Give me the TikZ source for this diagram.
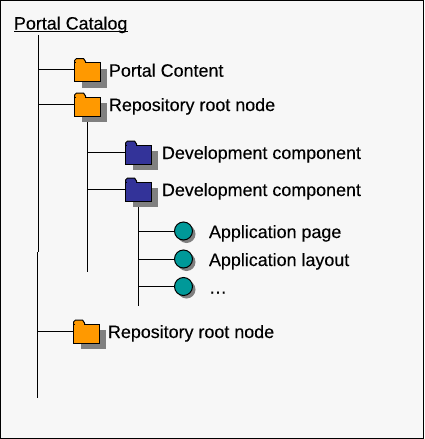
\documentclass[tikz,border=0pt]{standalone}
\usepackage{fontspec}
\setmainfont{Liberation Sans}
\definecolor{bgc}{HTML}{F7F7F7}
\definecolor{orangef}{HTML}{FF9900}
\definecolor{bluef}{HTML}{333399}
\definecolor{tealf}{HTML}{009999}
\definecolor{shad}{HTML}{808080}
\tikzset{
  every node/.style={inner sep=0pt,outer sep=0pt},
  conn/.style={draw=black,line width=1pt},
  lab/.style={anchor=base west,font=\fontsize{17.9}{20}\selectfont\addfontfeature{FakeBold=0.25},text=black},
  foldernode/.style={rectangle,minimum width=26pt,minimum height=19pt,draw=black,line width=1pt},
  ballnode/.style={circle,minimum size=18pt,draw=black,line width=1pt,fill=tealf},
}
% #1 name, #2 left x, #3 top y of tab (pixels), #4 colour
\newcommand{\folderat}[4]{%
  \fill[shad] (#2+7,-#3-10) rectangle (#2+32,-#3-29);
  \draw[line width=1pt,fill=#4,line join=round] (#2,-#3-6) -- (#2,-#3-2) -- (#2+2,-#3) -- (#2+9,-#3) -- (#2+11,-#3-3) -- (#2+11,-#3-6) -- cycle;
  \node[foldernode,fill=#4,anchor=north west] (#1) at (#2,-#3-4) {};
  \fill[#4] (#2+1,-#3-3) rectangle (#2+10,-#3-5);
}
\newcommand{\ballat}[3]{%
  \fill[shad] (#2+3,-#3-3) circle[radius=9];
  \node[ballnode] (#1) at (#2,-#3) {};
}
\begin{document}
\begin{tikzpicture}[x=1pt,y=1pt]
\useasboundingbox (0,0) rectangle (424,-439);
\fill[white] (0,0) rectangle (424,-439);
\draw[fill=bgc,line width=1pt] (0.5,-0.5) rectangle (423.5,-438);

\node[lab,anchor=base west] (title) at (14,-29.5) {Portal Catalog};
\draw[line width=1pt] (14,-31.5) -- (128,-31.5);

% trunk coordinates
\coordinate (a0) at (38.5,-35);
\coordinate (a1) at (38.5,-69.5);
\coordinate (a2) at (38.5,-104);
\coordinate (a3) at (38.5,-252);
\coordinate (b0) at (37.5,-252);
\coordinate (b1) at (37.5,-331);
\coordinate (b2) at (37.5,-398);
\coordinate (c0) at (87.5,-116);
\coordinate (c1) at (87.5,-152.5);
\coordinate (c2) at (87.5,-189.5);
\coordinate (c3) at (87.5,-272);
\coordinate (d0) at (138.5,-201);
\coordinate (d1) at (138.5,-231);
\coordinate (d2) at (138.5,-259);
\coordinate (d3) at (138.5,-286.5);
\coordinate (d4) at (138.5,-306);

\draw[conn] (c0) -- (c3);
\draw[conn] (d0) -- (d4);
\draw[conn] (a0) -- (a3);
\draw[conn] (b0) -- (b2);

\folderat{f1}{74.5}{58.5}{orangef}
\folderat{f2}{74.5}{93}{orangef}
\folderat{g1}{125.5}{141}{bluef}
\folderat{g2}{125.5}{178}{bluef}
\folderat{f3}{73.5}{320}{orangef}
\ballat{h1}{183.5}{231}
\ballat{h2}{183.5}{259}
\ballat{h3}{183.5}{286.5}

\draw[conn] (a1) -- (a1 -| f1.west);
\draw[conn] (a2) -- (a2 -| f2.west);
\draw[conn] (c1) -- (c1 -| g1.west);
\draw[conn] (c2) -- (c2 -| g2.west);
\draw[conn] (b1) -- (b1 -| f3.west);
\draw[conn] (d1) -- (d1 -| h1.west);
\draw[conn] (d2) -- (d2 -| h2.west);
\draw[conn] (d3) -- (d3 -| h3.west);

\node[lab] (t1) at (109,-76.7) {Portal Content};
\node[lab] (t2) at (109,-111) {Repository root node};
\node[lab] (t3) at (162,-159) {Development component};
\node[lab] (t4) at (162,-196) {Development component};
\node[lab] (t5) at (209,-238) {Application page};
\node[lab] (t6) at (209,-266) {Application layout};
\node[lab] (t7) at (209,-293.5) {…};
\node[lab] (t8) at (108,-338) {Repository root node};
\end{tikzpicture}
\end{document}
